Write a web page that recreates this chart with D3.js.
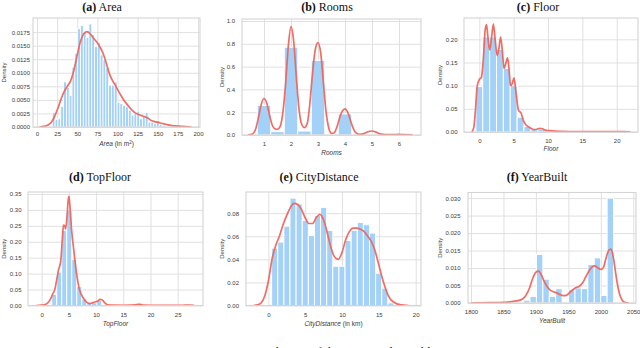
<!DOCTYPE html>
<html><head><meta charset="utf-8">
<script src="https://cdn.jsdelivr.net/npm/d3@7"></script>
<style>html,body{margin:0;padding:0;background:#fff;} svg{display:block;}</style>
</head><body><svg id="c" width="640" height="348"></svg>
<script>
// ---------------- DATA ----------------
// (a) Area
const areaBinStart = 19, areaBinWidth = 3.5;
const areaDensity = [0.0027, 0.0014, 0.0015, 0.0038, 0.0083, 0.0073, 0.0058, 0.0110, 0.0136, 0.0181, 0.0187, 0.0176, 0.0165, 0.0190, 0.0170, 0.0148, 0.0156, 0.0133, 0.0124, 0.0110, 0.0077, 0.0077, 0.0083, 0.0045, 0.0043, 0.0040, 0.0037, 0.0031, 0.0022, 0.0025, 0.0029, 0.0015, 0.0019, 0.0027, 0.0009, 0.0009, 0.0006, 0.0012, 0.0005, 0.0003];
const areaKde = [[3,0],[8,0.0001],[13,0.0003],[18,0.0009],[22,0.0020],[26,0.0035],[30,0.0052],[34,0.0066],[38,0.0076],[42,0.0086],[46,0.0106],[50,0.0133],[54,0.0158],[58,0.0172],[62,0.0176],[66,0.0172],[70,0.0164],[74,0.0157],[78,0.0148],[82,0.0136],[86,0.0118],[90,0.0098],[94,0.0085],[98,0.0075],[102,0.0064],[106,0.0054],[110,0.0045],[114,0.0038],[118,0.0031],[122,0.0026],[126,0.0023],[130,0.0021],[134,0.0019],[138,0.0016],[142,0.0012],[146,0.0010],[150,0.0009],[154,0.0007],[160,0.0005],[166,0.0003],[172,0.0002],[180,0.0001],[192,0]];
const areaXTicks = [0,25,50,75,100,125,150,175,200];
const areaYTicks = [0,0.0025,0.005,0.0075,0.01,0.0125,0.015,0.0175];

// (b) Rooms
const roomsBinStart = 0.75, roomsBinWidth = 0.5;
const roomsDensity = [0.26, 0.03, 0.77, 0.035, 0.655, 0, 0.185, 0, 0.006];
const roomsKde = [[0.4,0],[0.55,0.005],[0.7,0.06],[0.8,0.16],[0.9,0.27],[1.0,0.32],[1.1,0.28],[1.2,0.18],[1.3,0.09],[1.4,0.055],[1.5,0.05],[1.6,0.075],[1.7,0.2],[1.8,0.45],[1.9,0.78],[2.0,0.95],[2.1,0.82],[2.2,0.5],[2.3,0.22],[2.4,0.09],[2.5,0.065],[2.6,0.1],[2.7,0.28],[2.8,0.55],[2.9,0.75],[3.0,0.81],[3.1,0.72],[3.2,0.46],[3.3,0.2],[3.4,0.06],[3.5,0.015],[3.6,0.02],[3.7,0.07],[3.8,0.15],[3.9,0.21],[4.0,0.23],[4.1,0.2],[4.2,0.13],[4.3,0.06],[4.4,0.02],[4.55,0.005],[4.7,0.012],[4.85,0.028],[5.0,0.035],[5.15,0.025],[5.3,0.01],[5.5,0.004],[5.8,0.003],[6.0,0.005],[6.2,0.003],[6.5,0.001]];
const roomsXTicks = [1,2,3,4,5,6];
const roomsYTicks = [0,0.2,0.4,0.6,0.8,1.0];

// (c) Floor
const floorBinStart = -0.5, floorBinWidth = 1;
const floorDensity = [0.098, 0.205, 0.205, 0.178, 0.137, 0.10, 0.032, 0.012, 0.005, 0.006, 0.003, 0.001, 0.001, 0.0005, 0.0005, 0.0005, 0.0003, 0.0003, 0.0002, 0.0002, 0.0002, 0.0002];
const floorKde = [[-1.1,0],[-0.8,0.01],[-0.55,0.05],[-0.3,0.1],[0,0.113],[0.3,0.118],[0.6,0.16],[0.85,0.22],[1.05,0.232],[1.25,0.205],[1.5,0.177],[1.75,0.2],[2.05,0.233],[2.3,0.2],[2.6,0.165],[2.85,0.18],[3.1,0.205],[3.35,0.175],[3.6,0.137],[3.85,0.148],[4.1,0.16],[4.3,0.14],[4.55,0.10],[4.8,0.105],[5.05,0.117],[5.3,0.09],[5.7,0.047],[6.1,0.04],[6.4,0.025],[6.8,0.015],[7.2,0.011],[7.6,0.007],[8.0,0.005],[8.4,0.006],[8.8,0.008],[9.2,0.007],[9.6,0.004],[10.2,0.003],[11,0.002],[12,0.0015],[14,0.001],[16,0.001],[18,0.001],[20,0.001],[21,0.001],[22,0.0005]];
const floorXTicks = [0,5,10,15,20];
const floorYTicks = [0,0.05,0.10,0.15,0.20];

// (d) TopFloor
const topBinStart = 0, topBinWidth = 0.92;
const topDensity = [0, 0.003, 0.035, 0.105, 0.235, 0.30, 0.145, 0.06, 0.02, 0.01, 0.008, 0.016, 0.002, 0.001, 0.001, 0.0005, 0, 0, 0.002, 0.0005, 0, 0, 0, 0, 0, 0, 0, 0.001, 0.0005];
const topKde = [[-1,0],[0,0.001],[0.8,0.004],[1.5,0.017],[2.0,0.035],[2.45,0.053],[2.8,0.085],[3.07,0.11],[3.5,0.14],[3.8,0.21],[4.0,0.252],[4.2,0.25],[4.4,0.24],[4.65,0.28],[4.9,0.335],[5.0,0.342],[5.15,0.32],[5.5,0.236],[5.9,0.173],[6.4,0.1],[6.9,0.053],[7.7,0.022],[8.3,0.01],[8.9,0.006],[9.4,0.009],[9.8,0.011],[10.3,0.014],[10.7,0.019],[11.1,0.018],[11.6,0.008],[12.2,0.002],[13,0.001],[15,0.0005],[16.5,0.001],[17.5,0.003],[18.1,0.004],[18.7,0.001],[20,0.0005],[23,0.0005],[26,0.0008],[27,0.0015],[28,0.0005]];
const topXTicks = [0,5,10,15,20,25];
const topYTicks = [0,0.05,0.10,0.15,0.20,0.25,0.30,0.35];

// (e) CityDistance
const cityBinStart = 0.45, cityBinWidth = 0.83;
const cityDensity = [0.0497, 0.055, 0.0687, 0.093, 0.088, 0.0737, 0.0607, 0.078, 0.085, 0.065, 0.034, 0.034, 0.0563, 0.065, 0.072, 0.070, 0.0627, 0.028, 0.015, 0.0023];
const cityKde = [[-2,0],[-1.5,0.0005],[-1.0,0.002],[-0.5,0.008],[0,0.021],[0.5,0.04],[1.0,0.052],[1.5,0.06],[2.0,0.07],[2.5,0.078],[3.0,0.085],[3.5,0.0885],[4.0,0.0875],[4.5,0.083],[5.0,0.076],[5.5,0.071],[6.0,0.071],[6.5,0.076],[7.0,0.079],[7.5,0.074],[8.0,0.063],[8.5,0.05],[9.0,0.042],[9.5,0.04],[10.0,0.046],[10.5,0.057],[11.0,0.064],[11.5,0.067],[12.0,0.067],[12.5,0.066],[13.0,0.064],[13.5,0.06],[14.0,0.055],[14.5,0.047],[15.0,0.035],[15.5,0.023],[16.0,0.013],[16.5,0.006],[17.0,0.003],[18.0,0.0005],[19.0,0]];
const cityXTicks = [0,5,10,15,20];
const cityYTicks = [0,0.02,0.04,0.06,0.08];

// (f) YearBuilt
const yearBinStart = 1881, yearBinWidth = 9.9;
const yearDensity = [0.0008, 0.0019, 0.0139, 0.0068, 0.0019, 0.0041, 0, 0.0038, 0.0043, 0.0041, 0.011, 0.0129, 0.0022, 0.030];
const yearKde = [[1800,0],[1830,0.0001],[1850,0.0002],[1860,0.0003],[1870,0.0006],[1878,0.001],[1884,0.002],[1890,0.0042],[1895,0.007],[1900,0.0088],[1904,0.0091],[1908,0.0082],[1912,0.0065],[1917,0.0048],[1922,0.0037],[1927,0.0032],[1932,0.0029],[1937,0.0024],[1942,0.0021],[1947,0.0022],[1952,0.003],[1957,0.0038],[1962,0.0044],[1967,0.0048],[1972,0.0058],[1977,0.0075],[1982,0.0092],[1987,0.0104],[1991,0.0106],[1995,0.0101],[2000,0.0096],[2004,0.0102],[2008,0.0128],[2012,0.015],[2015,0.0154],[2018,0.0143],[2021,0.011],[2025,0.006],[2029,0.0025],[2033,0.0008],[2038,0.0001],[2043,0]];
const yearXTicks = [1800,1850,1900,1950,2000,2050];
const yearYTicks = [0,0.005,0.010,0.015,0.020,0.025,0.030];

// ---------------- DRAW ----------------
const svg = d3.select('#c');
const BAR = '#a3d1f8', KDE = '#f0645c', GRID = '#e0e0e0', FRAME = '#d4d4d4', TXT = '#3a3a3a';
const SANS = '"Liberation Sans", Arial, sans-serif';
const SERIF = '"Liberation Serif", "Times New Roman", serif';

function bins(start, width, dens) {
  return dens.map((d, i) => ({x0: start + i * width, x1: start + (i + 1) * width, y: d}));
}

function panel(c, idx) {
  const x = d3.scaleLinear().domain(c.xDom).range([c.l, c.r]);
  const y = d3.scaleLinear().domain(c.yDom).range([c.b, c.t]);
  const g = svg.append('g');
  const cid = 'clip' + idx;
  g.append('clipPath').attr('id', cid).append('rect')
    .attr('x', c.l).attr('y', c.t).attr('width', c.r - c.l).attr('height', c.b - c.t);

  // grid
  g.append('g').attr('transform', `translate(0,${c.b})`)
    .call(d3.axisBottom(x).tickValues(c.xTicks).tickSize(-(c.b - c.t)).tickFormat(''))
    .call(s => { s.select('.domain').remove(); s.selectAll('line').attr('stroke', GRID).attr('stroke-width', 1); });
  g.append('g').attr('transform', `translate(${c.l},0)`)
    .call(d3.axisLeft(y).tickValues(c.yTicks).tickSize(-(c.r - c.l)).tickFormat(''))
    .call(s => { s.select('.domain').remove(); s.selectAll('line').attr('stroke', GRID).attr('stroke-width', 1); });

  const pg = g.append('g').attr('clip-path', `url(#${cid})`);
  pg.selectAll('rect.bar').data(c.bins.filter(d => d.y > 0)).join('rect')
    .attr('class', 'bar')
    .attr('x', d => x(d.x0)).attr('width', d => Math.max(0, x(d.x1) - x(d.x0)))
    .attr('y', d => y(d.y)).attr('height', d => y(0) - y(d.y))
    .attr('fill', BAR).attr('stroke', '#fff').attr('stroke-width', c.barStroke);

  const line = d3.line().x(d => x(d[0])).y(d => y(d[1])).curve(d3.curveMonotoneX);
  pg.append('path').datum(c.kde).attr('d', line)
    .attr('fill', 'none').attr('stroke', KDE).attr('stroke-width', 1.7)
    .attr('stroke-linejoin', 'round').attr('stroke-opacity', 0.95);

  // frame
  g.append('rect').attr('x', c.l).attr('y', c.t).attr('width', c.r - c.l).attr('height', c.b - c.t)
    .attr('fill', 'none').attr('stroke', FRAME).attr('stroke-width', 1.1);

  // tick labels
  const xa = g.append('g').attr('transform', `translate(0,${c.b})`)
    .call(d3.axisBottom(x).tickValues(c.xTicks).tickSize(0).tickPadding(c.xPad).tickFormat(d3.format('d')));
  xa.select('.domain').remove();
  xa.selectAll('text').attr('font-family', SANS).attr('font-size', 6).attr('fill', TXT);
  const ya = g.append('g').attr('transform', `translate(${c.l},0)`)
    .call(d3.axisLeft(y).tickValues(c.yTicks).tickSize(0).tickPadding(c.yPad).tickFormat(d3.format(c.yFmt)));
  ya.select('.domain').remove();
  ya.selectAll('text').attr('font-family', SANS).attr('font-size', 6).attr('fill', TXT);

  // y label
  g.append('text').attr('transform', `translate(${c.ylx},${(c.t + c.b) / 2}) rotate(-90)`)
    .attr('text-anchor', 'middle').attr('font-family', SANS).attr('font-size', 6).attr('fill', TXT)
    .text('Density');

  // x label
  const xl = g.append('text').attr('x', (c.l + c.r) / 2).attr('y', c.xly)
    .attr('text-anchor', 'middle').attr('font-family', SANS).attr('font-size', 6.5).attr('fill', TXT);
  xl.append('tspan').attr('font-style', 'italic').text(c.xLabel);
  if (c.xLabelRest) c.xLabelRest(xl);

  // title
  const tt = svg.append('text').attr('x', c.tx).attr('y', c.ty).attr('text-anchor', 'middle')
    .attr('font-family', SERIF).attr('font-size', 12).attr('fill', '#111');
  tt.append('tspan').attr('font-weight', 'bold').text(c.tag);
  tt.append('tspan').text(' ' + c.title);
}

const panels = [
  {tag: '(a)', title: 'Area', tx: 102, ty: 11,
   l: 33, r: 200, t: 18, b: 127, xDom: [-5, 202.5], yDom: [0, 0.0201],
   xTicks: areaXTicks, yTicks: areaYTicks, yFmt: '.4f', xPad: 4.5, yPad: 3,
   bins: bins(areaBinStart, areaBinWidth, areaDensity), kde: areaKde, barStroke: 0.8,
   ylx: 6, xly: 146, xLabel: 'Area',
   xLabelRest: t => { t.append('tspan').text(' (in m'); t.append('tspan').attr('font-size', 4.5).attr('dy', -2.5).text('2'); t.append('tspan').attr('dy', 2.5).text(')'); }},
  {tag: '(b)', title: 'Rooms', tx: 327, ty: 11,
   l: 242, r: 421, t: 19, b: 135, xDom: [0.185, 6.815], yDom: [0, 1.0175],
   xTicks: roomsXTicks, yTicks: roomsYTicks, yFmt: '.1f', xPad: 6.5, yPad: 7,
   bins: bins(roomsBinStart, roomsBinWidth, roomsDensity), kde: roomsKde, barStroke: 1,
   ylx: 224, xly: 155, xLabel: 'Rooms'},
  {tag: '(c)', title: 'Floor', tx: 538, ty: 11,
   l: 464, r: 638, t: 18, b: 132, xDom: [-2.23, 23.1], yDom: [0, 0.246],
   xTicks: floorXTicks, yTicks: floorYTicks, yFmt: '.2f', xPad: 6.5, yPad: 6.5,
   bins: bins(floorBinStart, floorBinWidth, floorDensity), kde: floorKde, barStroke: 1,
   ylx: 442, xly: 151, xLabel: 'Floor'},
  {tag: '(d)', title: 'TopFloor', tx: 100, ty: 181,
   l: 28, r: 203, t: 192, b: 305.5, xDom: [-2.52, 29.65], yDom: [0, 0.356],
   xTicks: topXTicks, yTicks: topYTicks, yFmt: '.2f', xPad: 7, yPad: 6.5,
   bins: bins(topBinStart, topBinWidth, topDensity), kde: topKde, barStroke: 1,
   ylx: 5.5, xly: 326, xLabel: 'TopFloor'},
  {tag: '(e)', title: 'CityDistance', tx: 319, ty: 181,
   l: 246, r: 421, t: 192, b: 305.5, xDom: [-3.03, 20.72], yDom: [0, 0.0983],
   xTicks: cityXTicks, yTicks: cityYTicks, yFmt: '.2f', xPad: 7, yPad: 7,
   bins: bins(cityBinStart, cityBinWidth, cityDensity), kde: cityKde, barStroke: 1,
   ylx: 224, xly: 325.5, xLabel: 'CityDistance',
   xLabelRest: t => { t.append('tspan').text(' (in km)'); }},
  {tag: '(f)', title: 'YearBuilt', tx: 537, ty: 181,
   l: 468, r: 636, t: 192.5, b: 303, xDom: [1795.4, 2054.2], yDom: [0, 0.0316],
   xTicks: yearXTicks, yTicks: yearYTicks, yFmt: '.3f', xPad: 7, yPad: 7.5,
   bins: bins(yearBinStart, yearBinWidth, yearDensity), kde: yearKde, barStroke: 1,
   ylx: 442, xly: 322.5, xLabel: 'YearBuilt'}
];
panels.forEach(panel);

// caption (cut off at the bottom edge, as in the source)
svg.append('text').attr('x', 320).attr('y', 356).attr('text-anchor', 'middle')
  .attr('font-family', SERIF).attr('font-size', 12.5).attr('fill', '#111')
  .text('Figure 3: Distribution of the numerical variables');
</script></body></html>
